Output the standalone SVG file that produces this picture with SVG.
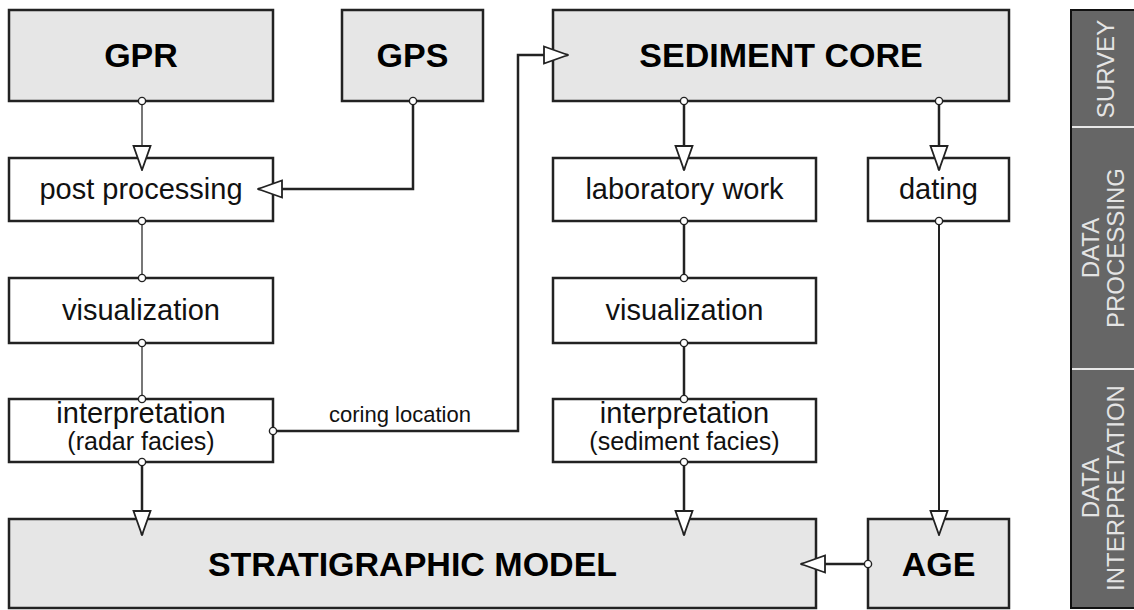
<svg xmlns="http://www.w3.org/2000/svg" width="1134" height="610" viewBox="0 0 1134 610">
<defs>
<style>
.gray{fill:#e6e6e6;stroke:#222;stroke-width:2.5}
.white{fill:#fff;stroke:#222;stroke-width:2.5}
.big{font-family:"Liberation Sans",Arial,sans-serif;font-weight:bold;font-size:34px;fill:#000;text-anchor:middle}
.reg{font-family:"Liberation Sans",Arial,sans-serif;font-size:29px;fill:#111;text-anchor:middle}
.sub{font-family:"Liberation Sans",Arial,sans-serif;font-size:25px;fill:#111;text-anchor:middle}
.lbl{font-family:"Liberation Sans",Arial,sans-serif;font-size:22px;fill:#111;text-anchor:middle}
.side{font-family:"Liberation Sans",Arial,sans-serif;font-size:24px;fill:#e4e4e4;text-anchor:middle}
.thin{fill:none;stroke:#555;stroke-width:1.6}
.thick{fill:none;stroke:#222;stroke-width:2.5}
</style>
<marker id="arr" viewBox="0 0 26 20" refX="25" refY="10" markerWidth="26" markerHeight="20" markerUnits="userSpaceOnUse" orient="auto">
<path d="M1,1.5 L25,10 L1,18.5 Z" fill="#fff" stroke="#222" stroke-width="1.8"/>
</marker>
<marker id="dot" viewBox="0 0 10 10" refX="5" refY="5" markerWidth="10" markerHeight="10" markerUnits="userSpaceOnUse" orient="auto">
<circle cx="5" cy="5" r="3.6" fill="#fff" stroke="#222" stroke-width="1.4"/>
</marker>
</defs>
<rect width="1134" height="610" fill="#fff"/>

<g id="gpr"><rect class="gray" x="9" y="10" width="264" height="91"/><text class="big" x="141" y="67">GPR</text></g>
<g id="gps"><rect class="gray" x="342" y="10" width="141" height="91"/><text class="big" x="412.5" y="67">GPS</text></g>
<g id="sediment-core"><rect class="gray" x="553" y="10" width="456" height="91"/><text class="big" x="781" y="67">SEDIMENT CORE</text></g>

<g id="post-processing"><rect class="white" x="9" y="158" width="264" height="63"/><text class="reg" x="141" y="199">post processing</text></g>
<g id="laboratory-work"><rect class="white" x="553" y="158" width="263" height="63"/><text class="reg" x="684.5" y="199">laboratory work</text></g>
<g id="dating"><rect class="white" x="868" y="158" width="141" height="63"/><text class="reg" x="938.5" y="199">dating</text></g>

<g id="visualization-left"><rect class="white" x="9" y="278" width="264" height="65"/><text class="reg" x="141" y="320">visualization</text></g>
<g id="visualization-right"><rect class="white" x="553" y="278" width="263" height="65"/><text class="reg" x="684.5" y="320">visualization</text></g>

<g id="interpretation-radar"><rect class="white" x="9" y="399" width="264" height="63"/><text class="reg" x="141" y="423">interpretation</text><text class="sub" x="141" y="450">(radar facies)</text></g>
<g id="interpretation-sediment"><rect class="white" x="553" y="399" width="263" height="63"/><text class="reg" x="684.5" y="423">interpretation</text><text class="sub" x="684.5" y="450">(sediment facies)</text></g>

<g id="stratigraphic-model"><rect class="gray" x="9" y="519" width="807" height="89"/><text class="big" x="412.5" y="576">STRATIGRAPHIC MODEL</text></g>
<g id="age"><rect class="gray" x="868" y="519" width="141" height="89"/><text class="big" x="938.5" y="576">AGE</text></g>

<g id="connectors">
<path class="thin" d="M142,101 V170" marker-start="url(#dot)" marker-end="url(#arr)"/>
<path class="thick" d="M413,101 V189 H258" marker-start="url(#dot)" marker-end="url(#arr)"/>
<path class="thin" d="M142,221 V278" marker-start="url(#dot)" marker-end="url(#dot)"/>
<path class="thin" d="M142,343 V399" marker-start="url(#dot)" marker-end="url(#dot)"/>
<path class="thick" d="M142,462 V535" marker-start="url(#dot)" marker-end="url(#arr)"/>
<path class="thick" d="M273,431 H518 V55 H568" marker-start="url(#dot)" marker-end="url(#arr)"/>
<text class="lbl" x="400" y="422">coring location</text>
<path class="thick" d="M684,101 V170" marker-start="url(#dot)" marker-end="url(#arr)"/>
<path class="thick" d="M939,101 V170" marker-start="url(#dot)" marker-end="url(#arr)"/>
<path class="thick" d="M684,221 V278" marker-start="url(#dot)" marker-end="url(#dot)"/>
<path class="thick" d="M684,343 V399" marker-start="url(#dot)" marker-end="url(#dot)"/>
<path class="thick" d="M684,462 V535" marker-start="url(#dot)" marker-end="url(#arr)"/>
<path class="thick" style="stroke-width:2" d="M939,221 V535" marker-start="url(#dot)" marker-end="url(#arr)"/>
<path class="thick" d="M868,564 H801" marker-start="url(#dot)" marker-end="url(#arr)"/>
</g>

<g id="sidebar">
<rect x="1071" y="10" width="70" height="598" fill="#666" stroke="#111" stroke-width="2"/>
<line x1="1072" y1="127" x2="1134" y2="127" stroke="#e8e8e8" stroke-width="2"/>
<line x1="1072" y1="369" x2="1134" y2="369" stroke="#e8e8e8" stroke-width="2"/>
<text class="side" transform="translate(1114,69) rotate(-90)">SURVEY</text>
<text class="side" transform="translate(1099,248) rotate(-90)">DATA</text>
<text class="side" transform="translate(1124,248) rotate(-90)">PROCESSING</text>
<text class="side" transform="translate(1099,488) rotate(-90)">DATA</text>
<text class="side" transform="translate(1124,488) rotate(-90)">INTERPRETATION</text>
</g>
</svg>
